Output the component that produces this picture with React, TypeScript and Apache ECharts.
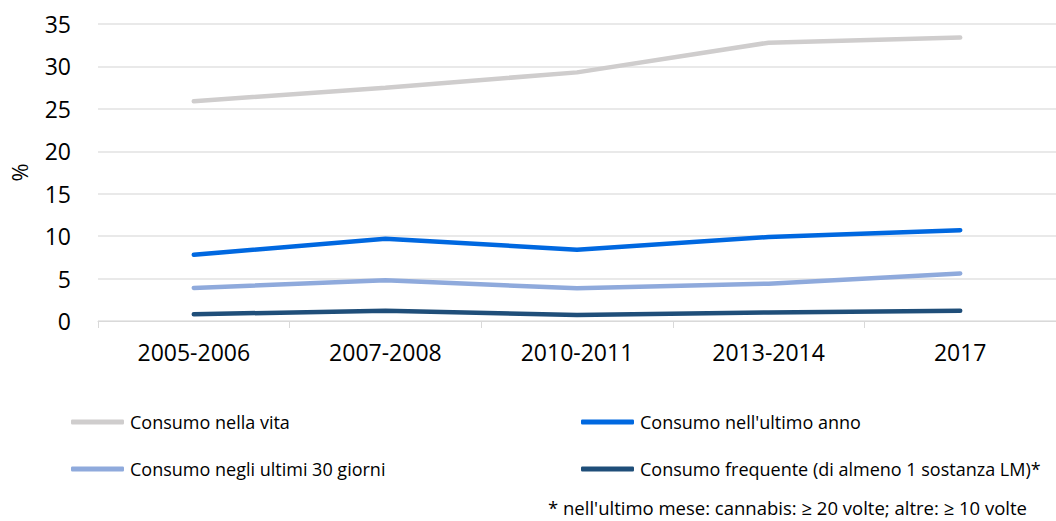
import React, { useEffect, useRef } from "react";
import * as echarts from "echarts";

const categories = ["2005-2006", "2007-2008", "2010-2011", "2013-2014", "2017"];
const seriesNames = [
  "Consumo nella vita",
  "Consumo nell'ultimo anno",
  "Consumo negli ultimi 30 giorni",
  "Consumo frequente (di almeno 1 sostanza LM)*",
];
const lifetime = [25.9, 27.5, 29.3, 32.8, 33.4];
const lastYear = [7.8, 9.7, 8.4, 9.9, 10.7];
const last30Days = [3.9, 4.8, 3.85, 4.4, 5.6];
const frequent = [0.8, 1.2, 0.7, 1.0, 1.2];
const colors = ["#CFCDCD", "#0068E0", "#8FAADC", "#1F4E79"];
const footnote = "* nell'ultimo mese: cannabis: ≥ 20 volte; altre: ≥ 10 volte";
const yAxisName = "%";

const FONT = "'Open Sans', sans-serif";

export default function App() {
  const ref = useRef<HTMLDivElement>(null);
  useEffect(() => {
    if (!ref.current) return;
    const chart = echarts.init(ref.current, undefined, { renderer: "svg" });
    const values = [lifetime, lastYear, last30Days, frequent];
    const legendPos = [
      { left: 71, top: 413 },
      { left: 581, top: 413 },
      { left: 71, top: 460 },
      { left: 581, top: 460 },
    ];
    chart.setOption({
      animation: false,
      backgroundColor: "#ffffff",
      textStyle: { fontFamily: FONT },
      grid: { left: 95, right: 0, top: 24, bottom: 200, containLabel: false },
      xAxis: {
        type: "category",
        data: categories,
        boundaryGap: true,
        axisLine: { lineStyle: { color: "#d9d9d9", width: 1 } },
        axisTick: { show: true, length: 7, lineStyle: { color: "#d9d9d9" } },
        axisLabel: { color: "#000", fontSize: 23, fontFamily: FONT, margin: 19 },
        splitLine: { show: false },
      },
      yAxis: {
        type: "value",
        min: 0,
        max: 35,
        interval: 5,
        name: yAxisName,
        nameLocation: "middle",
        nameGap: 68,
        nameRotate: 90,
        nameTextStyle: { color: "#000", fontSize: 22, fontFamily: FONT },
        axisLine: { show: false },
        axisTick: { show: false },
        axisLabel: { color: "#000", fontSize: 23, fontFamily: FONT, margin: 27 },
        splitLine: { lineStyle: { color: "#e2e2e2", width: 1.5 } },
      },
      legend: seriesNames.map((n, i) => ({
        data: [n],
        left: legendPos[i].left,
        top: legendPos[i].top,
        padding: 0,
        icon: "roundRect",
        itemWidth: 53,
        itemHeight: 5,
        textStyle: { color: "#000", fontSize: 18, fontFamily: FONT, padding: [0, 0, 0, 1] },
        selectedMode: false,
      })),
      series: seriesNames.map((n, i) => ({
        name: n,
        type: "line",
        data: values[i],
        symbol: "none",
        color: colors[i],
        lineStyle: { color: colors[i], width: 4.5, cap: "round" },
      })),
      graphic: [
        {
          type: "text",
          left: 548,
          top: 498,
          style: { text: footnote, fill: "#000", font: `18.5px ${FONT}` },
        },
      ],
    });
    return () => chart.dispose();
  }, []);
  return (
    <div
      ref={ref}
      style={{ position: "fixed", left: 0, top: 0, width: 1056, height: 521, background: "#fff" }}
    />
  );
}
